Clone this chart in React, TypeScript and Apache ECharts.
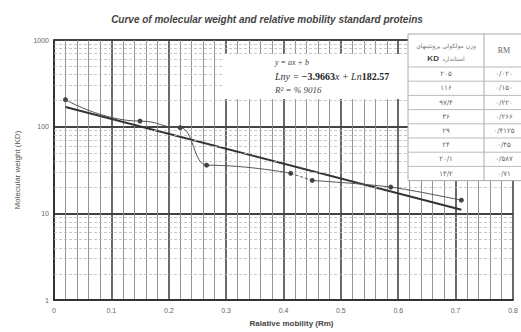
import React, { useEffect, useRef } from "react";
import * as echarts from "echarts";

const titleText = "Curve of molecular weight and relative mobility standard proteins";
const xName = "Ralative mobility (Rm)";
const yName = "Molecular weight (KD)";

// measured standards (relative mobility, molecular weight in KD)
const rm = [0.02, 0.15, 0.22, 0.266, 0.4125, 0.45, 0.587, 0.71];
const kd = [205, 116, 97.4, 36, 29, 24, 20.1, 14.2];

// fitted trend line end points
const trendX = [0.02, 0.71];
const trendY = [169, 11];

// log minor grid values
const minorY = [2, 3, 4, 5, 6, 7, 8, 9, 20, 30, 40, 50, 60, 70, 80, 90, 200, 300, 400, 500, 600, 700, 800, 900];

// table texts (Persian)
const tableHeadKD1 = "وزن مولکولی پروتئینهای";
const tableHeadKD2a = "KD";
const tableHeadKD2b = "استاندارد";
const tableHeadRM = "RM";
const tableKD = ["۲۰۵", "۱۱۶", "۹۷/۴", "۳۶", "۲۹", "۲۴", "۲۰/۱", "۱۴/۲"];
const tableRM = ["۰/۰۲۰", "۰/۱۵۰", "۰/۲۲۰", "۰/۲۶۶", "۰/۴۱۲۵", "۰/۴۵", "۰/۵۸۷", "۰/۷۱"];

const eqLine1 = "y = ax + b";
const eqLine3 = "R² = % 9016";

export default function App() {
  const ref = useRef<HTMLDivElement>(null);
  useEffect(() => {
    if (!ref.current) return;
    const chart = echarts.init(ref.current, null, { renderer: "svg" });

    const pts = rm.map((x, i) => [x, kd[i]]);
    const seg1 = pts.slice(0, 5);
    const seg2 = pts.slice(4, 6);
    const seg3 = pts.slice(5);
    const trend = trendX.map((x, i) => [x, trendY[i]]);

    const center = { textAlign: "center", textVerticalAlign: "middle", align: "center", verticalAlign: "middle" };

    // table graphics
    const tX = 408, tY = 34, tW = 120, colX = 484, headH = 33, rowH = 14.2;
    const tableEls: any[] = [];
    tableEls.push({ type: "rect", shape: { x: tX, y: tY, width: tW, height: headH + rowH * 8 }, style: { fill: "#fff", stroke: "#aaa", lineWidth: 1 }, z: 100 });
    tableEls.push({ type: "line", shape: { x1: colX, y1: tY, x2: colX, y2: tY + headH + rowH * 8 }, style: { stroke: "#aaa", lineWidth: 1 }, z: 101 });
    for (let i = 0; i < 8; i++) {
      const yy = tY + headH + rowH * i;
      tableEls.push({ type: "line", shape: { x1: tX, y1: yy, x2: tX + tW, y2: yy }, style: { stroke: "#bbb", lineWidth: 1 }, z: 101 });
      tableEls.push({ type: "text", x: (tX + colX) / 2, y: yy + rowH / 2, style: { text: tableKD[i], fill: "#666", font: "7px 'DejaVu Sans'", ...center }, z: 102 });
      tableEls.push({ type: "text", x: (colX + tX + tW) / 2 - 2, y: yy + rowH / 2, style: { text: tableRM[i], fill: "#666", font: "7px 'DejaVu Sans'", ...center }, z: 102 });
    }
    tableEls.push({ type: "text", x: (tX + colX) / 2, y: tY + 11, style: { text: tableHeadKD1, fill: "#777", font: "6px 'DejaVu Sans'", ...center }, z: 102 });
    tableEls.push({
      type: "text",
      x: (tX + colX) / 2,
      y: tY + 24,
      style: {
        text: "{b|" + tableHeadKD2a + "} {n|" + tableHeadKD2b + "}",
        fill: "#555",
        ...center,
        rich: {
          b: { fontFamily: "Liberation Sans", fontSize: 8, fontWeight: "bold", fill: "#444" },
          n: { fontFamily: "DejaVu Sans", fontSize: 6, fill: "#777" },
        },
      },
      z: 102,
    });
    tableEls.push({ type: "text", x: (colX + tX + tW) / 2 - 2, y: tY + headH / 2, style: { text: tableHeadRM, fill: "#666", font: "8px 'Liberation Serif'", ...center }, z: 102 });

    const option: any = {
      animation: false,
      backgroundColor: "#fff",
      title: {
        text: titleText,
        left: 262,
        top: 9,
        textAlign: "center",
        textStyle: { fontFamily: "Liberation Sans", fontSize: 10, fontWeight: "bold", fontStyle: "italic", color: "#444" },
      },
      grid: { left: 54, right: 8, top: 40, bottom: 29, containLabel: false },
      xAxis: {
        type: "value",
        min: 0,
        max: 0.8,
        interval: 0.1,
        name: xName,
        nameLocation: "middle",
        nameGap: 18,
        nameTextStyle: { fontFamily: "Liberation Sans", fontSize: 8, fontWeight: "bold", color: "#444", padding: [0, 0, 0, 16] },
        axisLine: { show: true, lineStyle: { color: "#333", width: 2 } },
        axisTick: { show: false },
        axisLabel: { fontFamily: "Liberation Sans", fontSize: 7, color: "#666", margin: 7 },
        splitLine: { show: true, lineStyle: { color: "#444", width: 1.6 } },
        minorTick: { show: false, splitNumber: 5 },
        minorSplitLine: { show: true, lineStyle: { color: "#888", width: 0.9 } },
      },
      yAxis: {
        type: "log",
        logBase: 10,
        min: 1,
        max: 1000,
        name: yName,
        nameLocation: "middle",
        nameGap: 33,
        nameTextStyle: { fontFamily: "Liberation Sans", fontSize: 8, color: "#555" },
        axisLine: { show: true, lineStyle: { color: "#333", width: 2 } },
        axisTick: { show: false },
        axisLabel: { fontFamily: "Liberation Sans", fontSize: 7, color: "#666", margin: 5, formatter: (v: number) => String(v) },
        splitLine: { show: true, lineStyle: { color: "#444", width: 2 } },
      },
      series: [
        {
          type: "line",
          data: [],
          silent: true,
          z: 1,
          markLine: {
            silent: true,
            symbol: "none",
            label: { show: false },
            lineStyle: { color: "#bbb", width: 0.8, type: [3, 2] },
            data: minorY.map((v) => ({ yAxis: v })),
          },
        },
        {
          type: "line",
          data: trend,
          showSymbol: false,
          symbol: "none",
          lineStyle: { color: "#333", width: 2 },
          z: 4,
        },
        {
          type: "line",
          data: seg1,
          smooth: 0.5,
          smoothMonotone: "x",
          symbol: "circle",
          symbolSize: 5,
          itemStyle: { color: "#444" },
          lineStyle: { color: "#555", width: 1 },
          z: 5,
        },
        {
          type: "line",
          data: seg2,
          symbol: "none",
          lineStyle: { color: "#555", width: 1, type: [3, 2] },
          z: 5,
        },
        {
          type: "line",
          data: seg3,
          smooth: 0.3,
          symbol: "circle",
          symbolSize: 5,
          itemStyle: { color: "#444" },
          lineStyle: { color: "#555", width: 1 },
          z: 5,
        },
      ],
      graphic: [
        { type: "rect", shape: { x: 224, y: 54, width: 184, height: 45 }, style: { fill: "#fff" }, z: 90 },
        { type: "text", x: 275, y: 62, style: { text: eqLine1, fill: "#444", font: "italic 8px 'Liberation Serif'", textVerticalAlign: "middle", verticalAlign: "middle" }, z: 91 },
        {
          type: "text",
          x: 275,
          y: 76,
          style: {
            text: "{i|Lny = }{b|−3.9663}{i|x + Ln}{b|182.57}",
            fill: "#333",
            textVerticalAlign: "middle",
            verticalAlign: "middle",
            rich: {
              i: { fill: "#333", fontFamily: "Liberation Serif", fontSize: 10, fontStyle: "italic" },
              b: { fill: "#222", fontFamily: "Liberation Serif", fontSize: 10, fontWeight: "bold" },
            },
          },
          z: 91,
        },
        { type: "text", x: 275, y: 90, style: { text: eqLine3, fill: "#444", font: "italic 9px 'Liberation Serif'", textVerticalAlign: "middle", verticalAlign: "middle" }, z: 91 },
        ...tableEls,
      ],
    };
    chart.setOption(option);
    return () => chart.dispose();
  }, []);
  return <div ref={ref} style={{ position: "fixed", left: 0, top: 0, width: 521, height: 332 }} />;
}
